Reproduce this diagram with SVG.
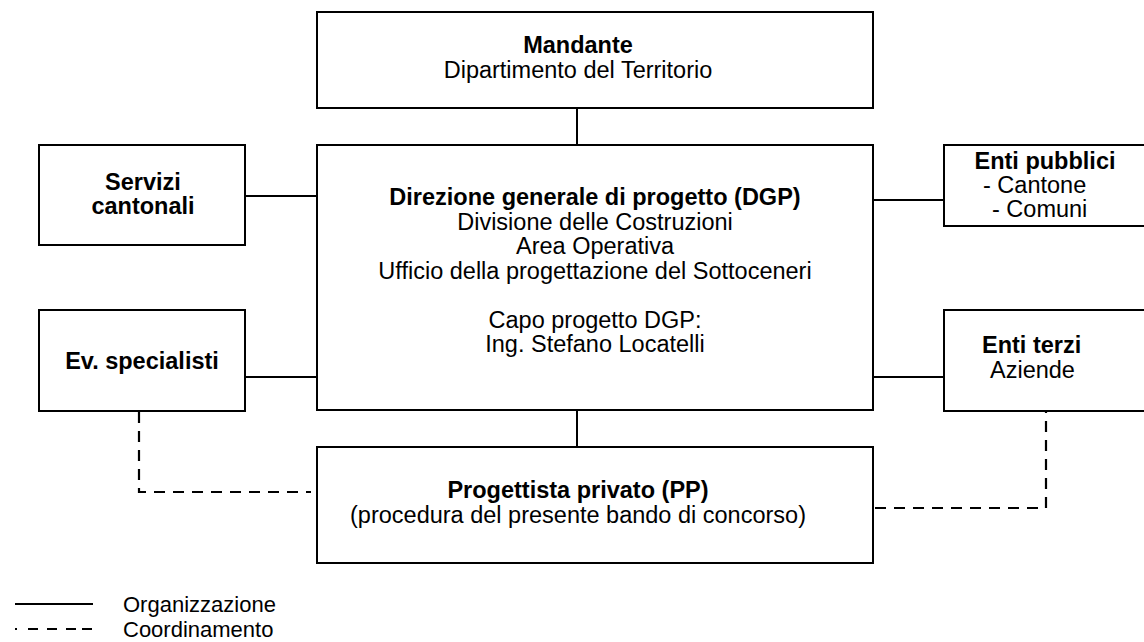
<svg xmlns="http://www.w3.org/2000/svg" width="1144" height="642" viewBox="0 0 1144 642">
<style>
.box{fill:#fff;stroke:#000;stroke-width:2}
.c{stroke:#000;stroke-width:2;fill:none}
.d{stroke:#000;stroke-width:2.2;fill:none;stroke-dasharray:11 8}
text{font-family:"Liberation Sans",Arial,sans-serif;font-size:23.5px;fill:#000}
.b{font-weight:bold}
.m{text-anchor:middle}
.lg{font-size:22px}
</style>
<rect width="1144" height="642" fill="#fff"/>
<g id="connectors">
<line class="c" x1="577" y1="108" x2="577" y2="145"/>
<line class="c" x1="577" y1="410" x2="577" y2="447"/>
<line class="c" x1="245" y1="196" x2="317" y2="196"/>
<line class="c" x1="245" y1="377" x2="317" y2="377"/>
<line class="c" x1="873" y1="200" x2="944" y2="200"/>
<line class="c" x1="873" y1="377" x2="944" y2="377"/>
<polyline class="d" points="139,412 139,492 311,492"/>
<polyline class="d" points="875,508 1046,508 1046,412"/>
</g>
<g id="mandante">
<rect class="box" x="317" y="12" width="556" height="96"/>
<text class="b m" x="578" y="53">Mandante</text>
<text class="m" x="578" y="78">Dipartimento del Territorio</text>
</g>
<g id="dgp">
<rect class="box" x="317" y="145" width="556" height="265"/>
<text class="b m" x="595" y="205">Direzione generale di progetto (DGP)</text>
<text class="m" x="595" y="229.5">Divisione delle Costruzioni</text>
<text class="m" x="595" y="254">Area Operativa</text>
<text class="m" x="595" y="278.5">Ufficio della progettazione del Sottoceneri</text>
<text class="m" x="595" y="327.5">Capo progetto DGP:</text>
<text class="m" x="595" y="352">Ing. Stefano Locatelli</text>
</g>
<g id="servizi">
<rect class="box" x="39" y="145" width="206" height="100"/>
<text class="b m" x="143" y="189.5">Servizi</text>
<text class="b m" x="143" y="214">cantonali</text>
</g>
<g id="specialisti">
<rect class="box" x="39" y="310" width="206" height="101"/>
<text class="b m" x="142" y="369">Ev. specialisti</text>
</g>
<g id="enti-pubblici">
<rect class="box" x="944" y="145" width="210" height="81"/>
<text class="b m" x="1045" y="169">Enti pubblici</text>
<text x="983" y="193">- Cantone</text>
<text x="992" y="217">- Comuni</text>
</g>
<g id="enti-terzi">
<rect class="box" x="944" y="310" width="210" height="101"/>
<text class="b" x="982" y="353">Enti terzi</text>
<text x="990" y="378">Aziende</text>
</g>
<g id="pp">
<rect class="box" x="317" y="447" width="556" height="116"/>
<text class="b m" x="578" y="498">Progettista privato (PP)</text>
<text class="m" x="578" y="523">(procedura del presente bando di concorso)</text>
</g>
<g id="legend">
<line class="c" x1="15" y1="604" x2="93" y2="604"/>
<line class="c" x1="15" y1="629" x2="93" y2="629" stroke-dasharray="2 11 10 9 10 9 10 6 10"/>
<text class="lg" x="123" y="612">Organizzazione</text>
<text class="lg" x="123" y="637">Coordinamento</text>
</g>
</svg>
